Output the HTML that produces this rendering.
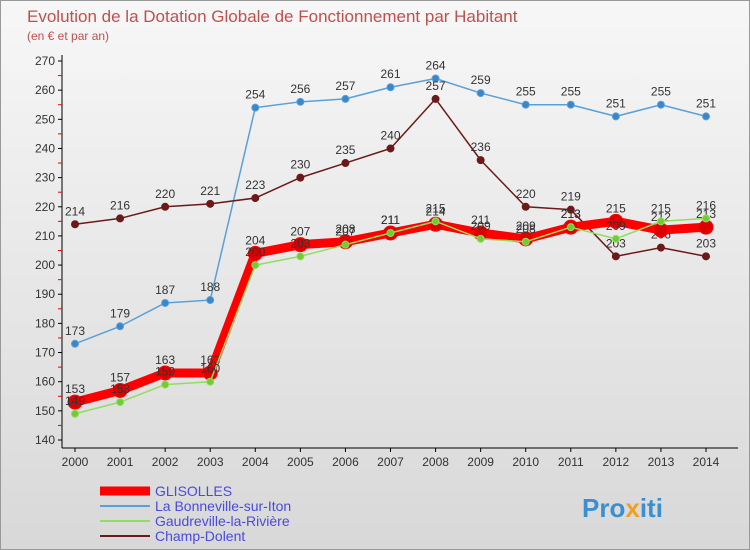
<!DOCTYPE html>
<html><head><meta charset="utf-8"><style>
body{margin:0;}
#wrap{width:750px;height:550px;position:relative;overflow:hidden;font-family:"Liberation Sans",sans-serif;background:linear-gradient(#f4f4f4,#dcdcdc);}
</style></head><body>
<div id="wrap">
<svg id="svg" width="750" height="550" xmlns="http://www.w3.org/2000/svg">
<defs><linearGradient id="bg" x1="0" y1="0" x2="0" y2="1"><stop offset="0" stop-color="#f7f7f7"/><stop offset="1" stop-color="#d8d8d8"/></linearGradient></defs>
<rect x="0.5" y="0.5" width="749" height="549" fill="url(#bg)" stroke="#999"/>
<text x="27" y="22" font-size="17" fill="#c0504d">Evolution de la Dotation Globale de Fonctionnement par Habitant</text>
<text x="27" y="40" font-size="12" fill="#c0504d">(en € et par an)</text>
<g id="axes"></g><g id="series"></g><g id="legend"></g>
<text x="582" y="517" font-size="26" font-weight="bold" fill="#3a8fd0">Pro<tspan fill="#f0a020">x</tspan>iti</text>
</svg></div>
<script>
const years=[2000,2001,2002,2003,2004,2005,2006,2007,2008,2009,2010,2011,2012,2013,2014];
const yTicks=[140,150,160,170,180,190,200,210,220,230,240,250,260,270];
const glisolles=[153,157,163,163,204,207,208,211,214,211,209,213,215,212,213];
const bonneville=[173,179,187,188,254,256,257,261,264,259,255,255,251,255,251];
const gaudreville=[149,153,159,160,200,203,207,211,215,209,208,213,209,215,216];
const champ=[214,216,220,221,223,230,235,240,257,236,220,219,203,206,203];
const NS="http://www.w3.org/2000/svg";
const X=i=>75+i*(706-75)/14;
const Y=v=>440-(v-140)*(440-61)/130;
function mk(t,a,p){const e=document.createElementNS(NS,t);for(const k in a)e.setAttribute(k,a[k]);p.appendChild(e);return e;}
const ax=document.getElementById('axes');
const yl=mk('line',{x1:62,y1:55,x2:62,y2:448,stroke:'#000'},ax);


const xl=mk('line',{x1:62,y1:448,x2:738,y2:448,stroke:'#000'},ax);


yTicks.forEach((v,k)=>{
 mk('line',{x1:58,x2:62,y1:Y(v),y2:Y(v),stroke:'#000'},ax);
 if(k<yTicks.length-1) mk('line',{x1:58,x2:62,y1:Y(v+5),y2:Y(v+5),stroke:'#e00'},ax);
 const t=mk('text',{x:55,y:Y(v)+4,'font-size':12,'text-anchor':'end',fill:'#333'},ax);t.textContent=v;
 
 
});
years.forEach((yr,i)=>{
 mk('line',{x1:X(i),x2:X(i),y1:448,y2:452,stroke:'#000'},ax);
 const t=mk('text',{x:X(i),y:466,'font-size':12,'text-anchor':'middle',fill:'#333'},ax);t.textContent=yr;
 
 
});
const sg=document.getElementById('series');
function draw(data,color,w,r,dot,name){
 const g=mk('g',{},sg);
 
 
 mk('polyline',{points:data.map((v,i)=>X(i)+','+Y(v)).join(' '),fill:'none',stroke:color,'stroke-width':w,'stroke-linejoin':'round'},g);
 data.forEach((v,i)=>{
  const c=mk('circle',{cx:X(i),cy:Y(v),r:r,fill:dot,stroke:color,'stroke-width':1},g);
  
  
  const t=mk('text',{x:X(i),y:Y(v)-9,'font-size':12,'text-anchor':'middle',fill:'#333'},g);t.textContent=v;
  
  
 });
}
draw(bonneville,'#5aa0d8',1.5,3.5,'#3a86c8','bonneville-series');
draw(champ,'#6b1a1a',1.5,3.5,'#6b1a1a','champ-dolent-series');
draw(glisolles,'#ff0000',9,7,'#dd0000','glisolles-series');
draw(gaudreville,'#90dd60',1.5,3.5,'#70cc30','gaudreville-series');
const lg=document.getElementById('legend');
const items=[['GLISOLLES','#ff0000',9],['La Bonneville-sur-Iton','#5aa0d8',2],['Gaudreville-la-Rivière','#90dd60',2],['Champ-Dolent','#6b1a1a',2]];
items.forEach((it,i)=>{
 const y=491+i*15;
 const g=mk('g',{},lg);
 
 
 mk('line',{x1:100,x2:150,y1:y,y2:y,stroke:it[1],'stroke-width':it[2]},g);
 const t=mk('text',{x:155,y:y+5,'font-size':14,fill:'#4a4adf'},g);t.textContent=it[0];
});
</script></body></html>
